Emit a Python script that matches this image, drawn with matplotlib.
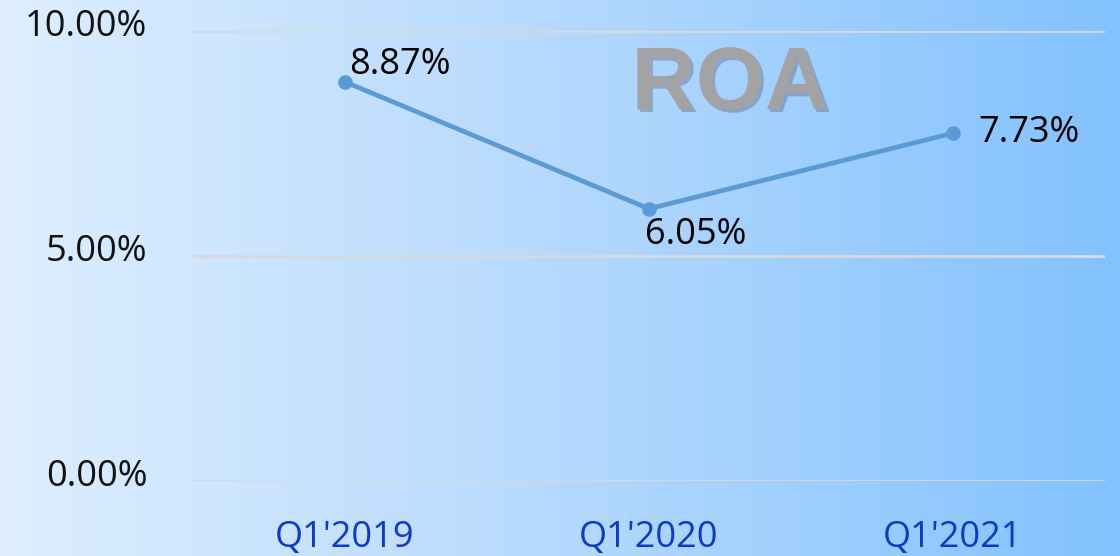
import numpy as np
import matplotlib.pyplot as plt
import matplotlib.patheffects as pe
import matplotlib.transforms as mtransforms
from matplotlib.colors import LinearSegmentedColormap

plt.rcParams['font.family'] = ['Open Sans', 'DejaVu Sans']

# data
quarters = ["Q1'2019", "Q1'2020", "Q1'2021"]
roa = [0.0887, 0.0605, 0.0773]
yticks = [0.0, 0.05, 0.10]

fig = plt.figure(figsize=(11.2, 5.56), dpi=100)

# gradient background across the whole figure
bg = fig.add_axes([0, 0, 1, 1], zorder=-1)
grad = np.linspace(0, 1, 256).reshape(1, -1)
cmap = LinearSegmentedColormap.from_list('bg', ['#deeeff', '#b5d9fd', '#82c2ff'])
bg.imshow(grad, aspect='auto', cmap=cmap, extent=[0, 1, 0, 1])
bg.axis('off')

ax = fig.add_axes([0.1723, 0.1349, 0.8143, 0.8093])
ax.patch.set_alpha(0)
x = np.arange(len(quarters))
ax.set_xlim(-0.5, len(quarters) - 0.5)
ax.set_ylim(0, 0.10)

for yv in yticks:
    ax.axhline(yv, color='#d9d9d9', lw=2, zorder=1)

ax.plot(x, roa, color='#5b9bd5', lw=3.4, marker='o', ms=9.5, zorder=3)

ax.set_yticks(yticks)
ax.set_yticklabels(['%.2f%%' % (v * 100) for v in yticks], fontsize=26, color='#111111')
ax.set_xticks(x)
ax.set_xticklabels(quarters, fontsize=26, color='#0a3cc8')
ax.tick_params(length=0, axis='y', pad=33)
ax.tick_params(length=0, axis='x', pad=28)
for s in ax.spines.values():
    s.set_visible(False)

# y labels sit a little above their gridlines
shift = mtransforms.ScaledTranslation(0, 6 / 72, fig.dpi_scale_trans)
for lab in ax.get_yticklabels():
    lab.set_transform(lab.get_transform() + shift)

# data labels
ax.annotate('%.2f%%' % (roa[0] * 100), (x[0], roa[0]), xytext=(3, 12),
            textcoords='offset points', fontsize=26, ha='left', va='center')
ax.annotate('%.2f%%' % (roa[1] * 100), (x[1], roa[1]), xytext=(-3, -19),
            textcoords='offset points', fontsize=26, ha='left', va='center')
ax.annotate('%.2f%%' % (roa[2] * 100), (x[2], roa[2]), xytext=(18, 0),
            textcoords='offset points', fontsize=26, ha='left', va='center')

fig.text(0.652, 0.845, 'ROA', family='Liberation Sans', fontweight='bold',
         fontsize=64, color='#a3a3a3', ha='center', va='center',
         path_effects=[pe.withSimplePatchShadow(offset=(2, -2), shadow_rgbFace='#404060', alpha=0.3)])

fig.savefig('out.png', dpi=100)
